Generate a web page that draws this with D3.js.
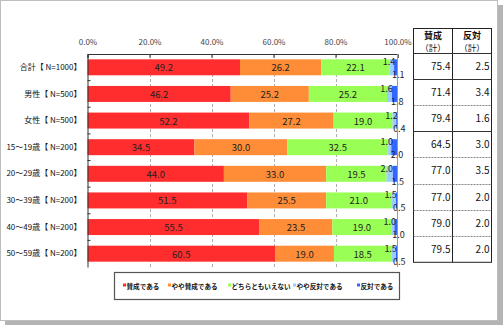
<!DOCTYPE html>
<html><head><meta charset="utf-8">
<script src="https://cdn.jsdelivr.net/npm/d3@7"></script>
<style>
html,body{margin:0;padding:0;background:#fff;}
svg{display:block;font-family:"Noto Sans CJK JP","Noto Sans",sans-serif;}
</style></head>
<body><svg id="c" width="503" height="325"></svg>
<script>
const categories = ["合計【 N=1000】","男性【 N=500】","女性【 N=500】","15～19歳【 N=200】","20～29歳【 N=200】","30～39歳【 N=200】","40～49歳【 N=200】","50～59歳【 N=200】"];
const seriesNames = ["賛成である","やや賛成である","どちらともいえない","やや反対である","反対である"];
const sansei     = [49.2, 46.2, 52.2, 34.5, 44.0, 51.5, 55.5, 60.5];
const yaya       = [26.2, 25.2, 27.2, 30.0, 33.0, 25.5, 23.5, 19.0];
const dochira    = [22.1, 25.2, 19.0, 32.5, 19.5, 21.0, 19.0, 18.5];
const yayaHantai = [1.4, 1.6, 1.2, 1.0, 2.0, 1.5, 1.0, 1.5];
const hantai     = [1.1, 1.8, 0.4, 2.0, 1.5, 0.5, 1.0, 0.5];
const sanseiTotal = ["75.4","71.4","79.4","64.5","77.0","77.0","79.0","79.5"];
const hantaiTotal = ["2.5","3.4","1.6","3.0","3.5","2.0","2.0","2.0"];
const xTicks = [0,20,40,60,80,100];
const colors = ["#FF2D2D","#FF8C37","#99FF55","#99CCFF","#3366FF"];

const svg = d3.select("#c");
// frame with shadow
svg.append("rect").attr("x",5).attr("y",5).attr("width",498).attr("height",320).attr("fill","#b4b4b4");
svg.append("rect").attr("x",0.5).attr("y",0.5).attr("width",497).attr("height",320).attr("fill","#fff").attr("stroke","#bdbdbd");

const L = 87.5, R = 397.5, T = 54, B = 267;
const x = d3.scaleLinear().domain([0,100]).range([L,R]);
const y = d3.scaleBand().domain(categories).range([T,B]).paddingInner(0.4).paddingOuter(0.2);

const series = [sansei, yaya, dochira, yayaHantai, hantai];
const rows = categories.map((c,i)=>{ const o={cat:c}; series.forEach((s,k)=>o["s"+k]=s[i]); return o; });
const stack = d3.stack().keys([0,1,2,3,4].map(k=>"s"+k))(rows);

// gridlines
svg.append("g").selectAll("line").data([20,40,60,80]).join("line")
  .attr("x1",d=>Math.round(x(d))+0.5).attr("x2",d=>Math.round(x(d))+0.5).attr("y1",T).attr("y2",B)
  .attr("stroke","#999").attr("stroke-dasharray","3,2").attr("stroke-width",0.8);

// bars
const g = svg.append("g");
stack.forEach((layer,k)=>{
  g.selectAll(null).data(layer).join("rect")
    .attr("x",d=>x(d[0])).attr("width",d=>x(d[1])-x(d[0]))
    .attr("y",d=>y(d.data.cat)).attr("height",y.bandwidth())
    .attr("fill",colors[k]);
});
// labels
const bw = y.bandwidth();
stack.forEach((layer,k)=>{
  g.selectAll(null).data(layer).join("text")
    .attr("x",d=>{const c=(x(d[0])+x(d[1]))/2; return k===3?c-3:(k===4?c+2.5:c);})
    .attr("y",d=>{const c=y(d.data.cat)+bw/2; return k===3?c-2:(k===4?c+11:c+4);})
    .attr("text-anchor","middle").attr("font-size",k>=3?"9px":"9.5px").attr("fill","#222")
    .text(d=>(d[1]-d[0]).toFixed(1));
});

// top axis
const ax = svg.append("g").attr("transform",`translate(0,${T})`)
  .call(d3.axisTop(x).tickValues(xTicks).tickFormat(d=>d.toFixed(1)+"%").tickSize(-4).tickPadding(9));
ax.select(".domain").attr("stroke","#333");
ax.selectAll(".tick line").attr("stroke","#333");
ax.selectAll("text").attr("font-size","8px").attr("fill","#444").attr("font-family","Noto Sans CJK JP, sans-serif");

// left axis
const ay = svg.append("g").attr("transform",`translate(${L},0)`)
  .call(d3.axisLeft(y).tickSize(0).tickPadding(6));
ay.select(".domain").attr("stroke","#333");
ay.selectAll("text").attr("font-size","8px").attr("fill","#111").attr("font-family","Noto Sans CJK JP, sans-serif");
// band boundary ticks
const step = y.step();
svg.append("g").selectAll("line").data(categories.slice(1)).join("line")
  .attr("x1",L).attr("x2",L+3).attr("y1",d=>y(d)-step*0.2).attr("y2",d=>y(d)-step*0.2)
  .attr("stroke","#333");
// right border
svg.append("line").attr("x1",R).attr("x2",R).attr("y1",T).attr("y2",B).attr("stroke","#999");

// table
const tx0=413.5, tx1=452.5, tx2=491.5, ty0=28.5, th=53;
const rowH = 26.1;
const tb = svg.append("g");
tb.append("rect").attr("x",tx0).attr("y",ty0).attr("width",tx2-tx0).attr("height",th+rowH*8-ty0+0.5).attr("fill","none").attr("stroke","#222");
tb.append("line").attr("x1",tx1).attr("x2",tx1).attr("y1",ty0).attr("y2",th+rowH*8+0.5).attr("stroke","#222");
const solid = [0,1,3];
for(let i=0;i<8;i++){
  const yy = Math.round(th+rowH*i)+0.5;
  tb.append("line").attr("x1",tx0).attr("x2",tx2).attr("y1",yy).attr("y2",yy)
    .attr("stroke",solid.includes(i)?"#333":"#666")
    .attr("stroke-width",solid.includes(i)?1.2:0.8)
    .attr("stroke-dasharray",solid.includes(i)?null:"2,1");
}
[["賛成",(tx0+tx1)/2],["反対",(tx1+tx2)/2]].forEach(([t,cx])=>{
  tb.append("text").attr("x",cx).attr("y",38.5).attr("text-anchor","middle").attr("font-size","9px").attr("font-weight","bold").attr("fill","#111").text(t);
  tb.append("text").attr("x",cx).attr("y",50.5).attr("text-anchor","middle").attr("font-size","8.5px").attr("fill","#111").text("（計）");
});
categories.forEach((c,i)=>{
  const cy = th+rowH*i+rowH/2+4;
  tb.append("text").attr("x",tx1-2).attr("y",cy).attr("text-anchor","end").attr("font-size","10px").attr("fill","#111").text(sanseiTotal[i]);
  tb.append("text").attr("x",tx2-2).attr("y",cy).attr("text-anchor","end").attr("font-size","10px").attr("fill","#111").text(hantaiTotal[i]);
});

// legend
const lg = svg.append("g");
lg.append("rect").attr("x",114.5).attr("y",272.5).attr("width",285).attr("height",27).attr("fill","#fff").attr("stroke","#555").attr("stroke-width",1.2);
const lx = [123,168,228,293,357];
seriesNames.forEach((n,k)=>{
  lg.append("rect").attr("x",lx[k]).attr("y",283.5).attr("width",3).attr("height",3).attr("fill",colors[k]);
  lg.append("text").attr("x",lx[k]+3.5).attr("y",288.5).attr("font-size","6.6px").attr("font-weight","bold").attr("fill","#111").text(n);
});
</script></body></html>
